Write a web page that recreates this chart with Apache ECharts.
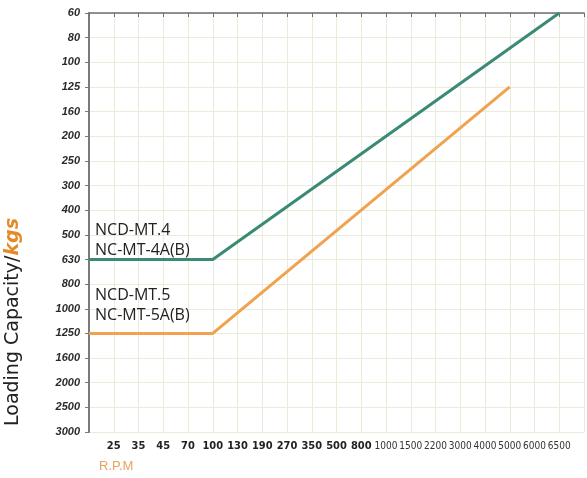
<!DOCTYPE html>
<html>
<head>
<meta charset="utf-8">
<style>
  html, body { margin: 0; padding: 0; background: #fff; }
  #main { width: 587px; height: 478px; }
</style>
<script src="https://cdn.jsdelivr.net/npm/echarts@6/dist/echarts.min.js"></script>
</head>
<body>
<div id="main"></div>
<script>
  // load ticks, top to bottom (kgs)
  var yLabels = ['60', '80', '100', '125', '160', '200', '250', '300', '400', '500',
                 '630', '800', '1000', '1250', '1600', '2000', '2500', '3000'];
  // speed ticks (R.P.M), first one sits one step right of the axis
  var xLabels = ['25', '35', '45', '70', '100', '130', '190', '270', '350', '500',
                 '800', '1000', '1500', '2200', '3000', '4000', '5000', '6000', '6500'];

  // line corner points as [rpm, kgs]; '0' = axis origin
  var mt4Points = [['0', '630'], ['100', '630'], ['6500', '60']];
  var mt5Points = [['0', '1250'], ['100', '1250'], ['5000', '125']];

  function toIndex(p) {
    var xi = p[0] === '0' ? 0 : xLabels.indexOf(p[0]) + 1;
    return [xi, yLabels.indexOf(p[1])];
  }

  var annFont = '16px "Open Sans", sans-serif';

  var chart = echarts.init(document.getElementById('main'));
  chart.setOption({
    animation: false,
    grid: { left: 89, right: 2, top: 13, bottom: 46, containLabel: false },
    xAxis: {
      type: 'value',
      min: 0,
      max: 20,
      interval: 1,
      axisLine: { show: true, lineStyle: { color: '#6e6e6e', width: 1.5 } },
      axisTick: { show: true, length: 4, lineStyle: { color: '#6e6e6e' } },
      splitLine: { show: true, lineStyle: { color: '#e9ecd9', width: 1 } },
      axisLabel: {
        margin: 9,
        formatter: function (v) {
          var s = xLabels[v - 1];
          if (!s) return '';
          return v <= 11 ? '{b|' + s + '}' : '{n|' + s + '}';
        },
        rich: {
          b: { fontFamily: 'Liberation Sans Narrow, DejaVu Sans Condensed, sans-serif', fontWeight: 'bold', fontSize: 11, color: '#222' },
          n: { fontFamily: 'Liberation Sans Narrow, DejaVu Sans Condensed, sans-serif', fontSize: 10, color: '#333' }
        }
      }
    },
    yAxis: {
      type: 'value',
      inverse: true,
      min: 0,
      max: 17,
      interval: 1,
      axisLine: { show: true, lineStyle: { color: '#7a7a7a', width: 2 } },
      axisTick: { show: true, length: 4, lineStyle: { color: '#7a7a7a' } },
      splitLine: { show: true, lineStyle: { color: '#e9ecd9', width: 1 } },
      axisLabel: {
        margin: 9,
        fontFamily: 'Liberation Sans, Arial, sans-serif',
        fontWeight: 'bold',
        fontStyle: 'italic',
        fontSize: 11,
        color: '#2a2a2a',
        formatter: function (v) { return yLabels[v] || ''; }
      }
    },
    series: [
      {
        name: 'NCD-MT.4',
        type: 'line',
        symbol: 'none',
        data: mt4Points.map(toIndex),
        lineStyle: { color: '#3a8a75', width: 3 }
      },
      {
        name: 'NCD-MT.5',
        type: 'line',
        symbol: 'none',
        data: mt5Points.map(toIndex),
        lineStyle: { color: '#f0a24f', width: 3 }
      }
    ],
    graphic: [
      { type: 'text', z: 100, left: 95, top: 222, style: { text: 'NCD-MT.4', font: annFont, fill: '#222' } },
      { type: 'text', z: 100, left: 95, top: 242, style: { text: 'NC-MT-4A(B)', font: annFont, fill: '#222' } },
      { type: 'text', z: 100, left: 95, top: 287, style: { text: 'NCD-MT.5', font: annFont, fill: '#222' } },
      { type: 'text', z: 100, left: 95, top: 307, style: { text: 'NC-MT-5A(B)', font: annFont, fill: '#222' } },
      { type: 'text', z: 100, left: 99, top: 460, style: { text: 'R.P.M', font: '13px "Liberation Sans", sans-serif', fill: '#e8a35f' } },
      {
        type: 'text',
        z: 100,
        x: 13,
        y: 322,
        rotation: Math.PI / 2,
        style: {
          text: '{a|Loading Capacity/}{k|kgs}',
          align: 'center',
          verticalAlign: 'middle',
          rich: {
            a: { font: '19px "DejaVu Sans", sans-serif', fill: '#222' },
            k: { font: 'italic bold 19px "DejaVu Sans", sans-serif', fill: '#e58a28' }
          }
        }
      }
    ]
  });
</script>
</body>
</html>
